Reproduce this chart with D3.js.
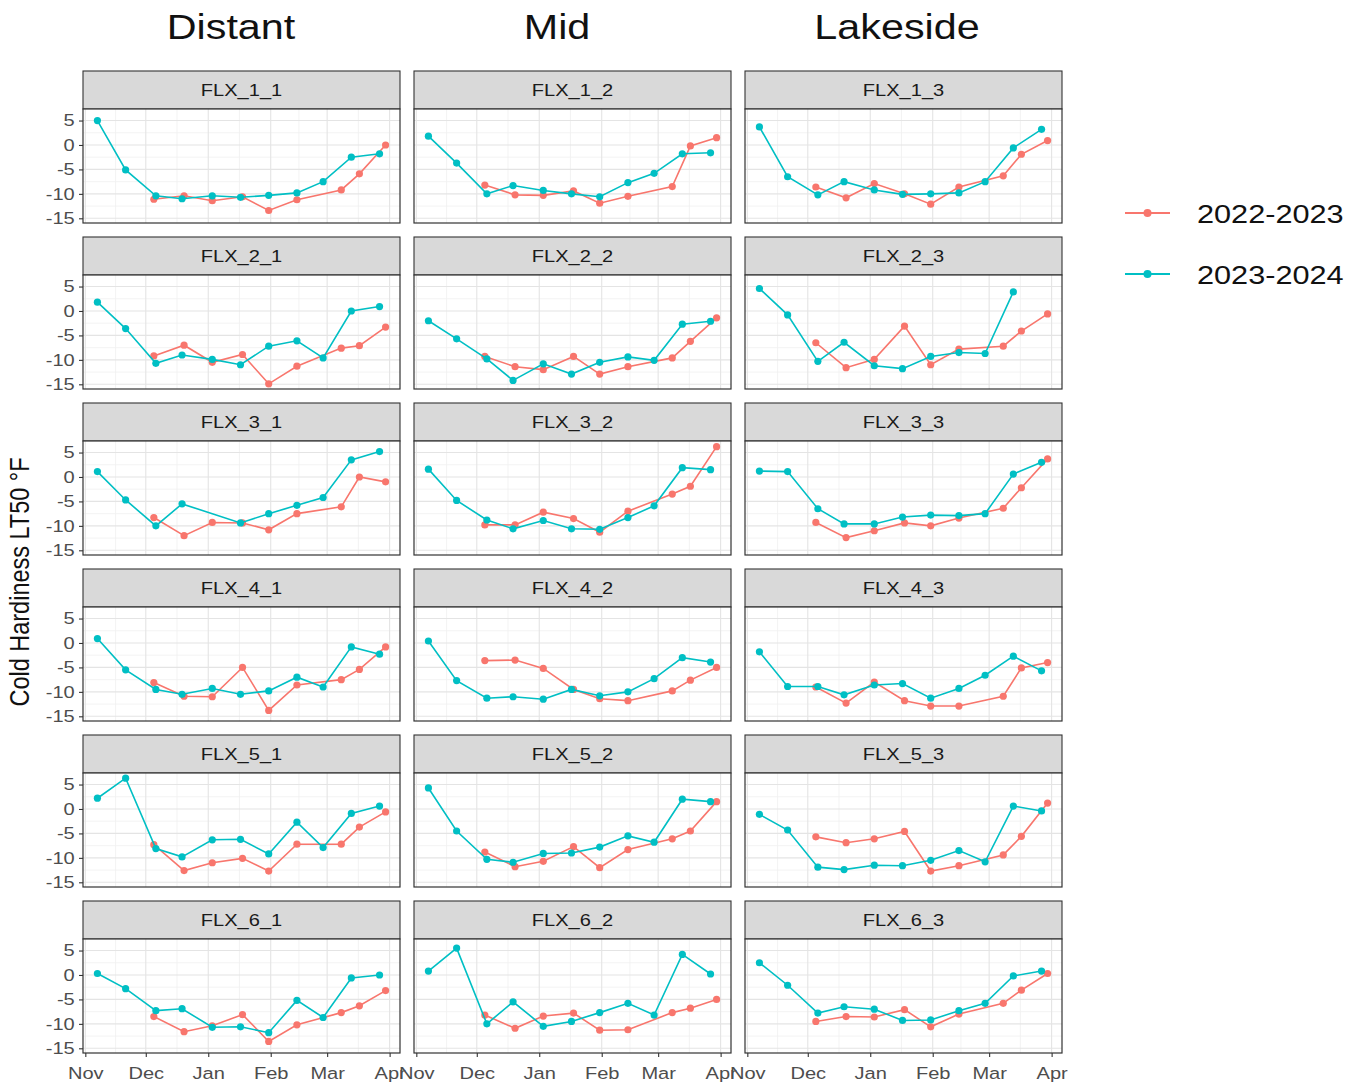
<!DOCTYPE html>
<html>
<head>
<meta charset="utf-8">
<script src="https://cdn.jsdelivr.net/npm/d3@7"></script>
<style>
  body { margin: 0; background: #fff; }
  svg { display: block; font-family: "Liberation Sans", Arial, sans-serif; }
</style>
</head>
<body>
<div id="chart"></div>
<script>
// sites, laid out row by row (3 columns: Distant, Mid, Lakeside)
const sites = [
  'FLX_1_1', 'FLX_1_2', 'FLX_1_3',
  'FLX_2_1', 'FLX_2_2', 'FLX_2_3',
  'FLX_3_1', 'FLX_3_2', 'FLX_3_3',
  'FLX_4_1', 'FLX_4_2', 'FLX_4_3',
  'FLX_5_1', 'FLX_5_2', 'FLX_5_3',
  'FLX_6_1', 'FLX_6_2', 'FLX_6_3'
];
const zones = ['Distant', 'Mid', 'Lakeside'];
const seasons = ['2022-2023', '2023-2024'];

// sampling dates of each season
const dates2223 = ['2022-12-05', '2022-12-20', '2023-01-03', '2023-01-18', '2023-01-31',
  '2023-02-14', '2023-03-08', '2023-03-17', '2023-03-30'];
const dates2324 = ['2023-11-07', '2023-11-21', '2023-12-06', '2023-12-19', '2024-01-03',
  '2024-01-17', '2024-01-31', '2024-02-14', '2024-02-27', '2024-03-13', '2024-03-27'];

// LT50 (°F), one row per site, one value per sampling date
const lt50_2223 = [
  [-11.1, -10.4, -11.4, -10.6, -13.4, -11.2, -9.2, -5.9, 0.0],
  [-8.2, -10.2, -10.3, -9.4, -11.9, -10.5, -8.5, -0.2, 1.5],
  [-8.6, -10.8, -7.9, -10.0, -12.1, -8.6, -6.3, -1.9, 0.9],
  [-9.2, -7.0, -10.5, -8.9, -14.9, -11.3, -7.6, -7.1, -3.3],
  [-9.3, -11.4, -12.0, -9.3, -12.9, -11.4, -9.6, -6.2, -1.4],
  [-6.5, -11.6, -9.9, -3.1, -11.0, -7.8, -7.2, -4.1, -0.6],
  [-8.3, -12.0, -9.3, -9.4, -10.8, -7.5, -6.1, 0.0, -1.0],
  [-9.8, -9.8, -7.2, -8.5, -11.3, -7.0, -3.5, -1.9, 6.2],
  [-9.3, -12.4, -11.0, -9.4, -10.0, -8.4, -6.4, -2.2, 3.7],
  [-8.1, -10.9, -11.0, -5.0, -13.8, -8.6, -7.5, -5.4, -0.8],
  [-3.6, -3.5, -5.2, -9.5, -11.4, -11.8, -9.8, -7.6, -5.0],
  [-9.0, -12.3, -8.0, -11.8, -12.9, -12.9, -10.9, -5.1, -4.0],
  [-7.3, -12.6, -11.0, -10.1, -12.7, -7.2, -7.2, -3.7, -0.6],
  [-8.8, -11.8, -10.7, -7.7, -12.0, -8.3, -6.1, -4.5, 1.5],
  [-5.7, -6.9, -6.1, -4.6, -12.7, -11.6, -9.4, -5.6, 1.2],
  [-8.5, -11.6, -10.4, -8.1, -13.6, -10.2, -7.7, -6.3, -3.2],
  [-8.2, -10.9, -8.4, -7.8, -11.3, -11.2, -7.7, -6.8, -5.0],
  [-9.5, -8.5, -8.6, -7.1, -10.6, -8.0, -5.8, -3.1, 0.3]
];
const lt50_2324 = [
  [5.0, -5.1, -10.4, -11.0, -10.4, -10.7, -10.3, -9.8, -7.5, -2.5, -1.8],
  [1.8, -3.7, -10.0, -8.3, -9.3, -10.0, -10.6, -7.7, -5.8, -1.8, -1.6],
  [3.7, -6.5, -10.2, -7.5, -9.2, -10.1, -10.0, -9.8, -7.5, -0.6, 3.2],
  [1.8, -3.6, -10.7, -9.0, -9.9, -11.0, -7.2, -6.1, -9.6, 0.0, 0.9],
  [-2.0, -5.7, -9.8, -14.2, -10.8, -12.9, -10.5, -9.4, -10.1, -2.7, -2.1],
  [4.6, -0.8, -10.3, -6.4, -11.2, -11.8, -9.3, -8.5, -8.7, 3.9, null],
  [1.1, -4.7, -10.0, -5.5, null, -9.4, -7.5, -5.8, -4.2, 3.5, 5.2],
  [1.6, -4.8, -8.8, -10.6, -8.9, -10.6, -10.7, -8.3, -5.9, 1.9, 1.5],
  [1.2, 1.1, -6.5, -9.6, -9.6, -8.2, -7.8, -7.9, -7.5, 0.6, 3.0],
  [0.9, -5.5, -9.5, -10.5, -9.3, -10.5, -9.8, -7.0, -9.0, -0.8, -2.3],
  [0.4, -7.7, -11.3, -11.0, -11.5, -9.5, -10.8, -10.0, -7.3, -3.0, -3.9],
  [-1.8, -8.9, -8.9, -10.6, -8.6, -8.3, -11.3, -9.3, -6.6, -2.7, -5.7],
  [2.2, 6.3, -8.1, -9.8, -6.3, -6.2, -9.2, -2.7, -7.9, -0.9, 0.6],
  [4.3, -4.5, -10.3, -10.9, -9.1, -9.0, -7.8, -5.5, -6.8, 2.0, 1.5],
  [-1.1, -4.3, -11.9, -12.4, -11.5, -11.6, -10.5, -8.5, -10.8, 0.6, -0.4],
  [0.3, -2.8, -7.3, -6.9, -10.7, -10.6, -11.8, -5.2, -8.7, -0.6, 0.0],
  [0.8, 5.5, -10.0, -5.5, -10.5, -9.5, -7.7, -5.8, -8.2, 4.2, 0.2],
  [2.5, -2.1, -7.8, -6.5, -7.0, -9.3, -9.2, -7.3, -5.8, -0.2, 0.8]
];

const monthTicks = ['2022-11-01', '2022-12-01', '2023-01-01', '2023-02-01', '2023-03-01', '2023-04-01'];
const yTicks = [-15, -10, -5, 0, 5];

// layout
const width = 1364;
const height = 1087;
const SX = 1.18; // the source picture is stretched sideways, text follows
const left0 = 83, top0 = 71;
const panelW = 317, stripH = 38, plotH = 114, gapX = 14, gapY = 14;
const titleX = [231, 557, 897];
const colors = ['#F8766D', '#00BFC4'];
const font = '"Liberation Sans", Arial, sans-serif';

const parse = d3.timeParse('%Y-%m-%d');
// both seasons drawn on one Nov-Apr axis: shift 2023-2024 back one year
const seasonDates = [
  dates2223.map(parse),
  dates2324.map(d => d3.timeYear.offset(parse(d), -1))
];
const seasonValues = [lt50_2223, lt50_2324];

const allDates = seasonDates.flat();
const allValues = seasonValues.flat(2).filter(v => v != null);

const [d0, d1] = d3.extent(allDates);
const dPad = (d1 - d0) * 0.05;
const x = d3.scaleTime()
  .domain([new Date(+d0 - dPad), new Date(+d1 + dPad)])
  .range([0, panelW]);

const [v0, v1] = d3.extent(allValues);
const vPad = (v1 - v0) * 0.05;
const y = d3.scaleLinear()
  .domain([v0 - vPad, v1 + vPad])
  .range([plotH, 0]);

const monthDates = monthTicks.map(parse);
const xMinor = d3.pairs(monthDates).map(([a, b]) => new Date((+a + +b) / 2));
const yMinor = d3.range(-17.5, 10, 5).filter(v => v > y.domain()[0] && v < y.domain()[1]);

const svg = d3.select('#chart')
  .append('svg')
  .attr('width', width)
  .attr('height', height)
  .attr('viewBox', [0, 0, width, height]);

function stretched(sel, px, py) {
  return sel.attr('transform', `translate(${px},${py}) scale(${SX},1)`);
}

// column titles
svg.selectAll('text.zone')
  .data(zones)
  .join('text')
    .attr('class', 'zone')
    .call(t => t.each(function (d, i) { stretched(d3.select(this), titleX[i], 39); }))
    .attr('text-anchor', 'middle')
    .attr('font-size', 35)
    .attr('font-family', font)
    .attr('fill', '#111')
    .text(d => d);

const line = d3.line()
  .x(d => x(d.date))
  .y(d => y(d.value));

sites.forEach((site, i) => {
  const col = i % 3;
  const row = Math.floor(i / 3);
  const gx = left0 + col * (panelW + gapX);
  const gy = top0 + row * (stripH + plotH + gapY);

  const g = svg.append('g').attr('transform', `translate(${gx},${gy})`);

  // strip
  g.append('rect')
    .attr('width', panelW).attr('height', stripH)
    .attr('fill', '#D9D9D9').attr('stroke', '#333').attr('stroke-width', 1.1);
  stretched(g.append('text'), panelW / 2, stripH / 2 + 6)
    .attr('text-anchor', 'middle')
    .attr('font-size', 17)
    .attr('font-family', font)
    .attr('fill', '#1A1A1A')
    .text(site);

  const p = g.append('g').attr('transform', `translate(0,${stripH})`);
  p.append('rect').attr('width', panelW).attr('height', plotH).attr('fill', '#fff');

  // grid
  p.append('g').selectAll('line')
    .data(xMinor.filter(d => d > x.domain()[0] && d < x.domain()[1]))
    .join('line')
      .attr('x1', d => x(d)).attr('x2', d => x(d))
      .attr('y1', 0).attr('y2', plotH)
      .attr('stroke', '#F0F0F0').attr('stroke-width', 0.8);
  p.append('g').selectAll('line')
    .data(yMinor)
    .join('line')
      .attr('x1', 0).attr('x2', panelW)
      .attr('y1', d => y(d)).attr('y2', d => y(d))
      .attr('stroke', '#F0F0F0').attr('stroke-width', 0.8);
  p.append('g').selectAll('line')
    .data(monthDates.filter(d => d > x.domain()[0] && d < x.domain()[1]))
    .join('line')
      .attr('x1', d => x(d)).attr('x2', d => x(d))
      .attr('y1', 0).attr('y2', plotH)
      .attr('stroke', '#E4E4E4').attr('stroke-width', 1.1);
  p.append('g').selectAll('line')
    .data(yTicks)
    .join('line')
      .attr('x1', 0).attr('x2', panelW)
      .attr('y1', d => y(d)).attr('y2', d => y(d))
      .attr('stroke', '#E4E4E4').attr('stroke-width', 1.1);

  // series
  seasons.forEach((season, s) => {
    const pts = seasonDates[s]
      .map((date, k) => ({ date, value: seasonValues[s][i][k] }))
      .filter(d => d.value != null);
    p.append('path')
      .datum(pts)
      .attr('fill', 'none')
      .attr('stroke', colors[s])
      .attr('stroke-width', 1.6)
      .attr('d', line);
    p.append('g')
      .attr('fill', colors[s])
      .selectAll('circle')
      .data(pts)
      .join('circle')
        .attr('cx', d => x(d.date))
        .attr('cy', d => y(d.value))
        .attr('r', 3.6);
  });

  p.append('rect')
    .attr('width', panelW).attr('height', plotH)
    .attr('fill', 'none').attr('stroke', '#333').attr('stroke-width', 1.2);

  if (col === 0) {
    p.append('g')
      .call(d3.axisLeft(y).tickValues(yTicks).tickSize(4).tickPadding(3).tickFormat(d => String(d)))
      .call(a => a.select('.domain').remove())
      .call(a => a.selectAll('line').attr('stroke', '#333').attr('stroke-width', 1.1))
      .call(a => a.selectAll('text')
        .attr('fill', '#4D4D4D')
        .attr('transform', `scale(${SX},1)`))
      .attr('font-size', 17)
      .attr('font-family', font);
  }
  if (row === 5) {
    p.append('g')
      .attr('transform', `translate(0,${plotH})`)
      .call(d3.axisBottom(x).tickValues(monthDates).tickSize(4).tickPadding(10)
        .tickFormat(d3.timeFormat('%b')))
      .call(a => a.select('.domain').remove())
      .call(a => a.selectAll('line').attr('stroke', '#333').attr('stroke-width', 1.1))
      .call(a => a.selectAll('text')
        .attr('fill', '#4D4D4D')
        .attr('transform', `scale(${SX},1)`))
      .attr('font-size', 17)
      .attr('font-family', font);
  }
});

// y axis title
svg.append('text')
  .attr('transform', `translate(29,582) scale(${SX},1) rotate(-90)`)
  .attr('text-anchor', 'middle')
  .attr('font-size', 23.5)
  .attr('font-family', font)
  .attr('fill', '#111')
  .text('Cold Hardiness LT50 °F');

// legend
const legend = svg.append('g')
  .selectAll('g')
  .data(seasons)
  .join('g')
    .attr('transform', (d, i) => `translate(1125,${213 + i * 61})`);
legend.append('line')
  .attr('x1', 0).attr('x2', 45)
  .attr('stroke', (d, i) => colors[i]).attr('stroke-width', 1.8);
legend.append('circle')
  .attr('cx', 22.5).attr('r', 4)
  .attr('fill', (d, i) => colors[i]);
legend.append('text')
  .attr('transform', `translate(72,9.5) scale(${SX},1)`)
  .attr('font-size', 26)
  .attr('font-family', font)
  .attr('fill', '#111')
  .text(d => d);
</script>
</body>
</html>
